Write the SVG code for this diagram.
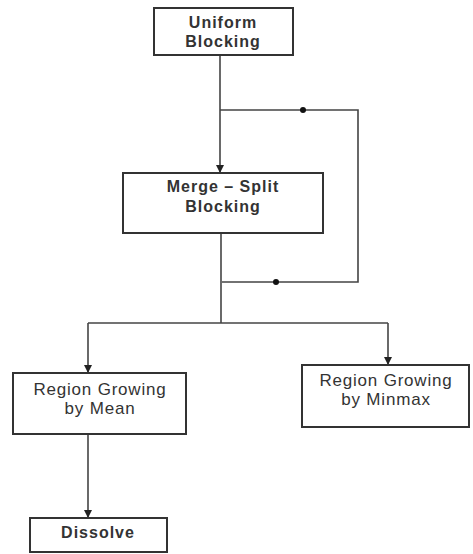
<svg xmlns="http://www.w3.org/2000/svg" width="473" height="554" viewBox="0 0 473 554">
<defs>
<marker id="arr" markerWidth="8" markerHeight="8" refX="7" refY="4" orient="auto" markerUnits="userSpaceOnUse">
<path d="M0,0 L8,4 L0,8 Z" fill="#222"/>
</marker>
<style>
.box{fill:#fff;stroke:#333;stroke-width:2}
.ln{fill:none;stroke:#444;stroke-width:1.6}
.t{font-family:"Liberation Sans",Arial,sans-serif;font-size:17px;letter-spacing:0.8px;fill:#333;text-anchor:middle}
.b{font-weight:bold;font-size:16px;letter-spacing:1px}
.dot{fill:#111}
</style>
</defs>
<rect width="473" height="554" fill="#fff"/>
<g id="connectors">
<path class="ln" d="M220,55 V172" marker-end="url(#arr)"/>
<path class="ln" d="M220,110 H358 V282 H222"/>
<circle class="dot" cx="303" cy="110" r="3"/>
<circle class="dot" cx="276" cy="282" r="3"/>
<path class="ln" d="M221,233 V323"/>
<path class="ln" d="M88,323 H388"/>
<path class="ln" d="M88,323 V372" marker-end="url(#arr)"/>
<path class="ln" d="M388,323 V364" marker-end="url(#arr)"/>
<path class="ln" d="M88,434 V517" marker-end="url(#arr)"/>
</g>
<g id="uniform">
<rect class="box" x="154" y="8" width="139" height="47"/>
<text class="t b" x="223" y="28">Uniform</text>
<text class="t b" x="223" y="47">Blocking</text>
</g>
<g id="merge">
<rect class="box" x="123" y="173" width="200" height="60"/>
<text class="t b" x="223" y="192">Merge – Split</text>
<text class="t b" x="223" y="212">Blocking</text>
</g>
<g id="mean">
<rect class="box" x="13" y="373" width="173" height="61"/>
<text class="t" x="100" y="395">Region Growing</text>
<text class="t" x="100" y="414">by Mean</text>
</g>
<g id="minmax">
<rect class="box" x="302" y="365" width="167" height="62"/>
<text class="t" x="386" y="386">Region Growing</text>
<text class="t" x="386" y="405">by Minmax</text>
</g>
<g id="dissolve">
<rect class="box" x="30" y="518" width="137" height="34"/>
<text class="t b" x="98" y="538">Dissolve</text>
</g>
</svg>
